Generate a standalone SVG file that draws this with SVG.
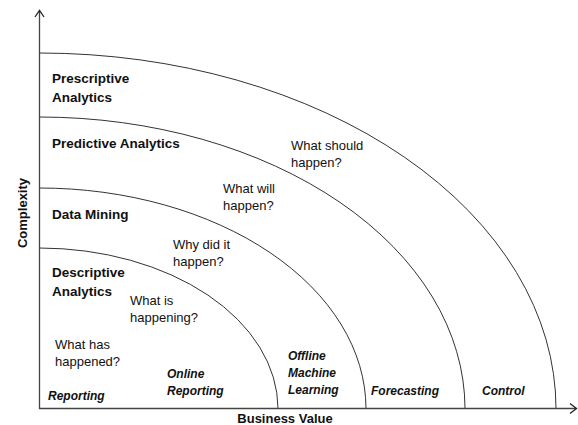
<svg xmlns="http://www.w3.org/2000/svg" width="578" height="425" viewBox="0 0 578 425">
<style>
.arc{fill:none;stroke:#333;stroke-width:1}
.axis{fill:none;stroke:#444;stroke-width:1.3}
.head{fill:none;stroke:#222;stroke-width:1.3}
text{font-family:"Liberation Sans",Arial,sans-serif;fill:#111}
.lvl{font-size:13.5px;font-weight:bold}
.q{font-size:13px}
.tool{font-size:12px;font-weight:bold;font-style:italic}
.ax{font-size:13px;font-weight:bold}
</style>
<rect width="578" height="425" fill="#fff"/>
<g id="connectors">
<path class="arc" d="M39.5 53 A517 356 0 0 1 556 408.5"/>
<path class="arc" d="M39.5 117 A426 292 0 0 1 465 408.5"/>
<path class="arc" d="M39.5 188 A327 221 0 0 1 366 408.5"/>
<path class="arc" d="M39.5 248 A239 161 0 0 1 278 408.5"/>
<line class="axis" x1="39.5" y1="10.5" x2="39.5" y2="409"/>
<line class="axis" x1="39" y1="408.5" x2="576.5" y2="408.5"/>
<polyline class="head" points="35,17 39.5,10.5 44,17"/>
<polyline class="head" points="570,403.5 576.5,408.5 570,413.5"/>
</g>
<g id="axis-labels">
<text class="ax" x="285" y="423" text-anchor="middle">Business Value</text>
<text class="ax" transform="translate(26.5,213) rotate(-90)" text-anchor="middle">Complexity</text>
</g>
<g id="prescriptive">
<text class="lvl" x="52" y="83">Prescriptive</text>
<text class="lvl" x="52" y="102">Analytics</text>
</g>
<g id="predictive">
<text class="lvl" x="52" y="148">Predictive Analytics</text>
</g>
<g id="data-mining">
<text class="lvl" x="52" y="219">Data Mining</text>
</g>
<g id="descriptive">
<text class="lvl" x="52" y="277">Descriptive</text>
<text class="lvl" x="52" y="296">Analytics</text>
</g>
<g id="questions">
<text class="q" x="55" y="349">What has</text>
<text class="q" x="55" y="366">happened?</text>
<text class="q" x="130" y="305">What is</text>
<text class="q" x="130" y="322">happening?</text>
<text class="q" x="173" y="249">Why did it</text>
<text class="q" x="173" y="266">happen?</text>
<text class="q" x="223" y="193">What will</text>
<text class="q" x="223" y="210">happen?</text>
<text class="q" x="291" y="150">What should</text>
<text class="q" x="291" y="167">happen?</text>
</g>
<g id="tools">
<text class="tool" x="48" y="400">Reporting</text>
<text class="tool" x="167" y="378">Online</text>
<text class="tool" x="167" y="395">Reporting</text>
<text class="tool" x="288" y="360">Offline</text>
<text class="tool" x="288" y="377">Machine</text>
<text class="tool" x="288" y="394">Learning</text>
<text class="tool" x="371" y="395">Forecasting</text>
<text class="tool" x="482" y="395">Control</text>
</g>
</svg>
